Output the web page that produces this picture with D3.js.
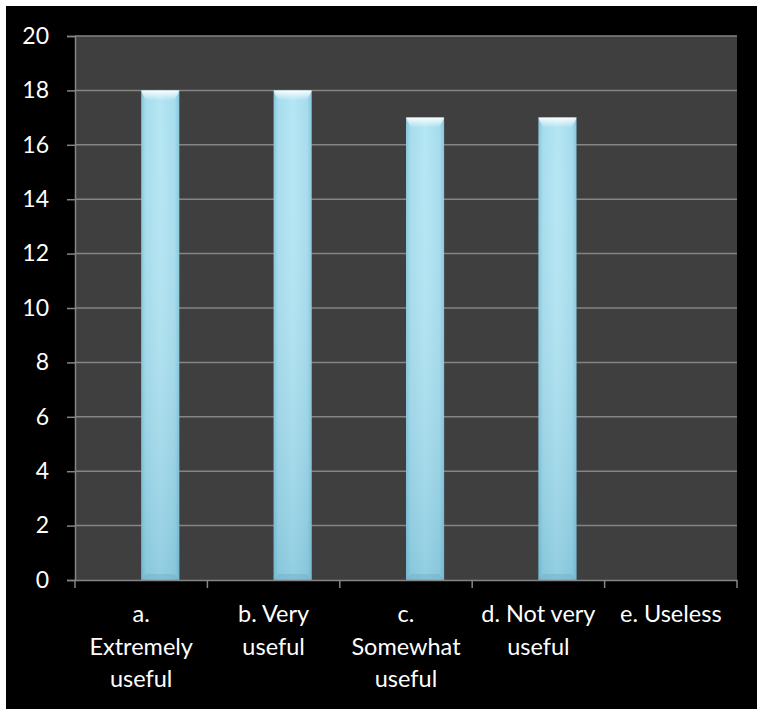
<!DOCTYPE html>
<html>
<head>
<meta charset="utf-8">
<script src="https://cdn.jsdelivr.net/npm/d3@7"></script>
<style>
  html, body { margin: 0; padding: 0; background: #ffffff; }
  svg { display: block; }
</style>
</head>
<body>
<svg id="chart" width="757" height="709"></svg>
<script>
// ---- data ----
const categories = ["a. Extremely useful", "b. Very useful", "c. Somewhat useful", "d. Not very useful", "e. Useless"];
const categoryLabelLines = [["a.", "Extremely", "useful"], ["b. Very", "useful"], ["c.", "Somewhat", "useful"], ["d. Not very", "useful"], ["e. Useless"]];
const seriesNames = ["Series 1", "Series 2"];
const series1Values = [null, null, null, null, null];
const series2Values = [18, 18, 17, 17, 0];
const yTicks = [0, 2, 4, 6, 8, 10, 12, 14, 16, 18, 20];

// ---- layout ----
const W = 757, H = 709;
const margin = { left: 75, right: 20, top: 36, bottom: 129 };
const FONT = "Lato, 'Open Sans', sans-serif";
const svg = d3.select("#chart");
const defs = svg.append("defs");

// black chart area with a thin white border at top/left
svg.append("rect").attr("x", 6).attr("y", 6).attr("width", W - 6).attr("height", H - 6).attr("fill", "#000");

const plotW = W - margin.left - margin.right;
const plotH = H - margin.top - margin.bottom;

const x0 = d3.scaleBand().domain(categories).range([margin.left, margin.left + plotW]).paddingInner(0).paddingOuter(0);
// two series per category, gap width ~147%
const x1 = d3.scaleBand().domain(seriesNames).range([0, x0.bandwidth()]).paddingInner(0).paddingOuter(0.737);
const y = d3.scaleLinear().domain([0, 20]).range([margin.top + plotH, margin.top]);

// plot background
svg.append("rect")
  .attr("x", margin.left).attr("y", margin.top)
  .attr("width", plotW).attr("height", plotH)
  .attr("fill", "#3f3f3f");

// gridlines
svg.append("g").selectAll("line").data(yTicks.filter(d => d > 0)).join("line")
  .attr("x1", margin.left).attr("x2", margin.left + plotW)
  .attr("y1", d => y(d)).attr("y2", d => y(d))
  .attr("stroke", "#858585").attr("stroke-width", 1.5);

// gradients for bars
const gH = defs.append("linearGradient").attr("id", "barH").attr("x1", 0).attr("x2", 1).attr("y1", 0).attr("y2", 0);
[[0, "#86c6dc"], [0.12, "#a6dcec"], [0.5, "#b4e6f4"], [0.88, "#a6dcec"], [1, "#86c6dc"]]
  .forEach(([o, c]) => gH.append("stop").attr("offset", o).attr("stop-color", c));
const gV = defs.append("linearGradient").attr("id", "barV").attr("x1", 0).attr("x2", 0).attr("y1", 0).attr("y2", 1);
[[0, "#ffffff", 0.0], [1, "#3a8fb0", 0.28]]
  .forEach(([o, c, op]) => gV.append("stop").attr("offset", o).attr("stop-color", c).attr("stop-opacity", op));
const gTop = defs.append("linearGradient").attr("id", "barTop").attr("x1", 0).attr("x2", 0).attr("y1", 0).attr("y2", 1);
[[0, "#ffffff", 0.95], [1, "#ffffff", 0]]
  .forEach(([o, c, op]) => gTop.append("stop").attr("offset", o).attr("stop-color", c).attr("stop-opacity", op));

const rows = categories.map((c, i) => ({ cat: c, vals: [series1Values[i], series2Values[i]] }));
const barData = [];
rows.forEach(r => r.vals.forEach((v, j) => {
  if (v != null && v > 0) barData.push({ cat: r.cat, s: seriesNames[j], v });
}));

const bars = svg.append("g").selectAll("g").data(barData).join("g");
bars.append("rect")
  .attr("x", d => x0(d.cat) + x1(d.s)).attr("y", d => y(d.v))
  .attr("width", x1.bandwidth()).attr("height", d => y(0) - y(d.v))
  .attr("fill", "url(#barH)");
bars.append("rect")
  .attr("x", d => x0(d.cat) + x1(d.s)).attr("y", d => y(d.v))
  .attr("width", x1.bandwidth()).attr("height", d => y(0) - y(d.v))
  .attr("fill", "url(#barV)");
// top bevel highlight
bars.append("path")
  .attr("d", d => {
    const bx = x0(d.cat) + x1(d.s), bw = x1.bandwidth(), by = y(d.v);
    return `M${bx},${by} L${bx + bw},${by} Q${bx + bw - 3},${by + 10} ${bx + bw - 8},${by + 10} L${bx + 8},${by + 10} Q${bx + 3},${by + 10} ${bx},${by} Z`;
  })
  .attr("fill", "url(#barTop)");
// bottom bevel shade
bars.append("path")
  .attr("d", d => {
    const bx = x0(d.cat) + x1(d.s), bw = x1.bandwidth(), by = y(0);
    return `M${bx},${by} L${bx + bw},${by} L${bx + bw - 5},${by - 6} L${bx + 5},${by - 6} Z`;
  })
  .attr("fill", "#6fb2cc").attr("opacity", 0.5);

// y axis
const yAxis = svg.append("g").attr("transform", `translate(${margin.left},0)`)
  .call(d3.axisLeft(y).tickValues(yTicks).tickSize(8).tickPadding(18).tickFormat(d3.format("d")));
yAxis.select(".domain").attr("stroke", "#858585").attr("stroke-width", 1.5);
yAxis.selectAll(".tick line").attr("stroke", "#858585").attr("stroke-width", 1.5);
yAxis.selectAll(".tick text").attr("fill", "#ffffff")
  .style("font-family", FONT).style("font-size", "23px");

// x axis
const xAxis = svg.append("g").attr("transform", `translate(0,${y(0)})`)
  .call(d3.axisBottom(x0).tickSize(0).tickFormat(""));
xAxis.select(".domain").attr("stroke", "#858585").attr("stroke-width", 1.5);
// boundary tick marks
const boundaries = categories.map(c => x0(c)).concat([x0(categories[categories.length - 1]) + x0.bandwidth()]);
xAxis.append("g").selectAll("line").data(boundaries).join("line")
  .attr("x1", d => d).attr("x2", d => d).attr("y1", 0).attr("y2", 8)
  .attr("stroke", "#858585").attr("stroke-width", 1.5);

// category labels
const labelG = svg.append("g");
categories.forEach((c, i) => {
  const t = labelG.append("text")
    .attr("x", x0(c) + x0.bandwidth() / 2)
    .attr("y", y(0) + 42)
    .attr("text-anchor", "middle")
    .attr("fill", "#ffffff")
    .style("font-family", FONT).style("font-size", "23.5px");
  categoryLabelLines[i].forEach((ln, k) => {
    t.append("tspan").attr("x", x0(c) + x0.bandwidth() / 2).attr("dy", k === 0 ? 0 : 32.5).text(ln);
  });
});
</script>
</body>
</html>
